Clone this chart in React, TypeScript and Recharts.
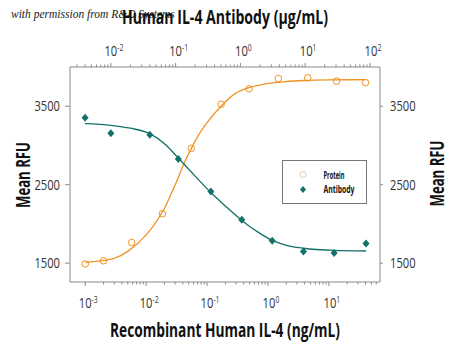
import React from 'react';
import { ComposedChart, Line, Scatter, XAxis, YAxis, Legend, Label } from 'recharts';

// measured points (bottom axis: protein ng/mL, top axis: antibody µg/mL)
const proteinX = [0.001, 0.002, 0.0058, 0.0185, 0.055, 0.17, 0.49, 1.48, 4.5, 13.4, 40];
const proteinY = [1490, 1530, 1763, 2130, 2964, 3525, 3722, 3854, 3862, 3820, 3800];
const antibodyX = [0.004, 0.01, 0.04, 0.11, 0.35, 1.05, 3.1, 9.4, 28, 87];
const antibodyY = [3352, 3155, 3135, 2828, 2414, 2053, 1785, 1648, 1628, 1750];

// fitted curves
const proteinFitX = [0.001, 0.002, 0.003, 0.005, 0.01, 0.015, 0.02, 0.03, 0.042, 0.055, 0.075, 0.1, 0.17, 0.3, 0.5, 1, 2, 4, 10, 40];
const proteinFitY = [1510, 1535, 1560, 1650, 1860, 2040, 2200, 2500, 2770, 2960, 3150, 3290, 3500, 3670, 3740, 3790, 3815, 3828, 3835, 3838];
const antibodyFitX = [0.004, 0.01, 0.02, 0.04, 0.07, 0.11, 0.2, 0.35, 0.6, 1.05, 2, 3.1, 5, 9.4, 28, 87];
const antibodyFitY = [3278, 3257, 3220, 3150, 3010, 2840, 2610, 2400, 2220, 2045, 1880, 1790, 1730, 1690, 1662, 1655];

const bottomDecades = [0.001, 0.01, 0.1, 1, 10];
const topDecades = [0.001, 0.01, 0.1, 1, 10, 100];
const yTicks = [1500, 2500, 3500];

const bottomDomain = [0.000562, 69.2];
const topDomain = [0.00234, 143];

const ORANGE = '#EE9424';
const TEAL = '#13706A';
const FONT = "'Open Sans', 'Liberation Sans', sans-serif";

const toPts = (xs: number[], ys: number[]) => xs.map((x, i) => ({ x, y: ys[i] }));

const withMinors = (decades: number[], domain: number[]) => {
  const out: number[] = [];
  decades.forEach((d) => {
    for (let m = 1; m < 10; m++) {
      const v = d * m;
      if (v >= domain[0] && v <= domain[1]) out.push(v);
    }
  });
  return out;
};

// condensed-looking text: horizontally squeezed
const CText = ({ x, y, anchor = 'middle', size = 14, weight = 400, sx = 0.8, rotate = 0, len, children }: any) => (
  <text
    transform={`translate(${x},${y})${rotate ? ` rotate(${rotate})` : ''}${len ? '' : ` scale(${sx},1)`}`}
    textAnchor={anchor}
    fontFamily={FONT}
    fontSize={size}
    fontWeight={weight}
    fill={weight > 500 ? '#111' : '#333'}
    textLength={len}
    lengthAdjust={len ? 'spacingAndGlyphs' : undefined}
  >
    {children}
  </text>
);

const LogTick = (props: any) => {
  const { x, y, payload, side } = props;
  const v = payload.value;
  const lg = Math.log10(v);
  const exp = Math.round(lg);
  const major = Math.abs(lg - exp) < 1e-6;
  const dir = side === 'top' ? -1 : 1;
  const len = major ? 4 : 2.5;
  return (
    <g>
      <line x1={x} x2={x} y1={y} y2={y + dir * len} stroke="#8a8a8a" strokeWidth={1} />
      {major && (
        <text
          transform={`translate(${x + 3},${side === 'top' ? y - 11 : y + 26}) scale(0.8,1)`}
          textAnchor="middle"
          fontFamily={FONT}
          fontSize={14}
          fill="#333"
        >
          10
          <tspan dy={-5} fontSize={8.5}>{exp}</tspan>
        </text>
      )}
    </g>
  );
};

const YTick = (props: any) => (
  <CText x={props.x} y={props.y + 5} anchor={props.textAnchor} size={14} sx={0.8}>
    {props.payload.value}
  </CText>
);

const OpenCircle = (p: any) => (
  <circle cx={p.cx} cy={p.cy} r={3.3} fill="none" stroke={ORANGE} strokeWidth={1} />
);

const Diamond = (p: any) => (
  <path
    d={`M${p.cx},${p.cy - 4} L${p.cx + 3.5},${p.cy} L${p.cx},${p.cy + 4} L${p.cx - 3.5},${p.cy} Z`}
    fill={TEAL}
  />
);

const renderLegend = () => (
  <svg width={85} height={44} style={{ display: 'block', overflow: 'visible' }}>
    <rect x={0.5} y={0.5} width={84} height={43} fill="#fff" stroke="#777" />
    <circle cx={21} cy={14.5} r={3} fill="none" stroke="#f2c79a" strokeWidth={1} />
    <path d="M21,26 L24,29.5 L21,33 L18,29.5 Z" fill={TEAL} />
    <CText x={41.5} y={18.5} anchor="start" size={10.5} weight={700} len={21}>Protein</CText>
    <CText x={41.5} y={32.5} anchor="start" size={10.5} weight={700} len={31}>Antibody</CText>
  </svg>
);

const yLabel = (side: 'left' | 'right') => (props: any) => {
  const vb = props.viewBox;
  const bx = side === 'left' ? vb.x + 29.5 : vb.x + vb.width - 6.5;
  const cy = side === 'left' ? 175 : 173.5;
  return (
    <CText x={bx} y={cy} rotate={-90} size={19} weight={700} len={66}>
      Mean RFU
    </CText>
  );
};

const bottomLabel = (props: any) => {
  const vb = props.viewBox;
  return (
    <CText x={vb.x + vb.width / 2} y={vb.y + 55} size={19} weight={700} len={230}>
      Recombinant Human IL-4 (ng/mL)
    </CText>
  );
};

const topLabel = (props: any) => {
  const vb = props.viewBox;
  return (
    <CText x={vb.x + vb.width / 2} y={vb.y + 24} size={19} weight={700} len={206}>
      Human IL-4 Antibody (μg/mL)
    </CText>
  );
};

export default function App() {
  return (
    <div style={{ position: 'absolute', left: 0, top: 0, width: 450, height: 347, background: '#fff' }}>
      <div
        style={{
          position: 'absolute',
          left: 11,
          top: 8,
          fontFamily: "'Liberation Serif', 'DejaVu Serif', serif",
          fontStyle: 'italic',
          fontSize: 11.5,
          color: '#222',
          whiteSpace: 'nowrap',
        }}
      >
        with permission from R&amp;D Systems
      </div>
      <ComposedChart width={450} height={347} margin={{ top: 0, right: 0, bottom: 5, left: 0 }}>
        <XAxis
          xAxisId="bottom"
          dataKey="x"
          type="number"
          scale="log"
          domain={bottomDomain}
          allowDataOverflow
          ticks={withMinors(bottomDecades, bottomDomain)}
          interval={0}
          orientation="bottom"
          height={60}
          tickSize={0}
          tickMargin={0}
          tickLine={false}
          axisLine={{ stroke: '#8a8a8a' }}
          tick={(p: any) => <LogTick {...p} side="bottom" />}
        >
          <Label content={bottomLabel} />
        </XAxis>
        <XAxis
          xAxisId="top"
          dataKey="x"
          type="number"
          scale="log"
          domain={topDomain}
          allowDataOverflow
          ticks={withMinors(topDecades, topDomain)}
          interval={0}
          orientation="top"
          height={67}
          tickSize={0}
          tickMargin={0}
          tickLine={false}
          axisLine={{ stroke: '#8a8a8a' }}
          tick={(p: any) => <LogTick {...p} side="top" />}
        >
          <Label content={topLabel} />
        </XAxis>
        <YAxis
          yAxisId="left"
          dataKey="y"
          type="number"
          domain={[1260, 4000]}
          allowDataOverflow
          ticks={yTicks}
          interval={0}
          width={70}
          tickSize={5}
          tickMargin={5}
          tick={YTick}
          tickLine={{ stroke: '#8a8a8a' }}
          axisLine={{ stroke: '#8a8a8a' }}
        >
          <Label content={yLabel('left')} />
        </YAxis>
        <YAxis
          yAxisId="right"
          orientation="right"
          dataKey="y"
          type="number"
          domain={[1260, 4000]}
          allowDataOverflow
          ticks={yTicks}
          interval={0}
          width={70}
          tickSize={3}
          tickMargin={7}
          tick={YTick}
          tickLine={{ stroke: '#8a8a8a' }}
          axisLine={{ stroke: '#8a8a8a' }}
        >
          <Label content={yLabel('right')} />
        </YAxis>
        <Legend
          layout="horizontal"
          verticalAlign="middle"
          align="center"
          wrapperStyle={{ left: 282, top: 160, width: 85, height: 44 }}
          content={renderLegend}
        />
        <Line
          xAxisId="bottom"
          yAxisId="left"
          data={toPts(proteinFitX, proteinFitY)}
          dataKey="y"
          type="monotone"
          stroke={ORANGE}
          strokeWidth={1.3}
          dot={false}
          activeDot={false}
          legendType="none"
          isAnimationActive={false}
        />
        <Line
          xAxisId="top"
          yAxisId="left"
          data={toPts(antibodyFitX, antibodyFitY)}
          dataKey="y"
          type="monotone"
          stroke={TEAL}
          strokeWidth={1.3}
          dot={false}
          activeDot={false}
          legendType="none"
          isAnimationActive={false}
        />
        <Scatter
          name="Protein"
          xAxisId="bottom"
          yAxisId="left"
          data={toPts(proteinX, proteinY)}
          dataKey="y"
          shape={OpenCircle}
          isAnimationActive={false}
        />
        <Scatter
          name="Antibody"
          xAxisId="top"
          yAxisId="left"
          data={toPts(antibodyX, antibodyY)}
          dataKey="y"
          shape={Diamond}
          isAnimationActive={false}
        />
      </ComposedChart>
    </div>
  );
}
